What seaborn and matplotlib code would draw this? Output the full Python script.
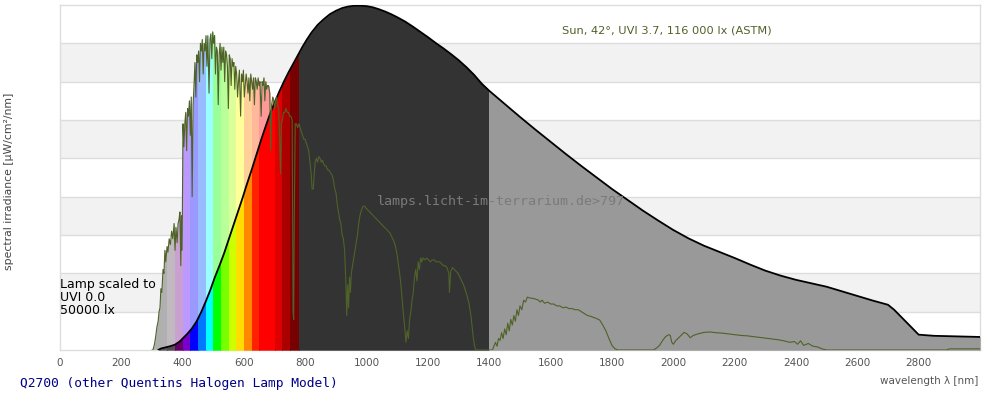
import matplotlib
matplotlib.use('Agg')
import matplotlib.pyplot as plt
from matplotlib.patches import Rectangle
import seaborn as sns

# --- datos: lámpara halógena Q2700 (escalada) ---
lamp_nm = [320, 330, 340, 350, 360, 375, 390, 400, 415, 430, 445, 460, 475, 490, 505,
           520, 535, 550, 565, 580, 595, 610, 625, 640, 655, 670, 685, 700, 715, 730,
           745, 760, 775, 790, 805, 820, 840, 860, 880, 900, 920, 940, 960, 980, 1000,
           1020, 1040, 1060, 1080, 1100, 1125, 1150, 1175, 1200, 1225, 1250, 1275, 1300,
           1325, 1350, 1375, 1400, 1450, 1500, 1550, 1600, 1650, 1700, 1750, 1800, 1850,
           1900, 1950, 2000, 2050, 2100, 2150, 2200, 2250, 2300, 2350, 2400, 2450, 2500,
           2550, 2600, 2650, 2700, 2720, 2800, 2850, 2900, 3000]
lamp_val = [0.0, 0.04, 0.06, 0.08, 0.10, 0.14, 0.22, 0.30, 0.42, 0.56, 0.74, 0.98, 1.26, 1.56, 1.90,
            2.20, 2.52, 2.88, 3.24, 3.60, 3.96, 4.34, 4.70, 5.08, 5.46, 5.82, 6.16, 6.46, 6.74, 7.00,
            7.24, 7.46, 7.68, 7.90, 8.10, 8.28, 8.48, 8.63, 8.76, 8.85, 8.92, 8.96, 8.98, 8.98, 8.97,
            8.94, 8.89, 8.83, 8.76, 8.68, 8.57, 8.44, 8.30, 8.16, 8.01, 7.87, 7.72, 7.56,
            7.38, 7.18, 6.95, 6.76, 6.42, 6.08, 5.75, 5.43, 5.11, 4.80, 4.50, 4.20, 3.92,
            3.64, 3.38, 3.13, 2.91, 2.72, 2.56, 2.40, 2.23, 2.07, 1.94, 1.83, 1.74, 1.65,
            1.53, 1.41, 1.29, 1.18, 1.05, 0.40, 0.37, 0.36, 0.34]

# --- datos: sol ASTM 42° ---
sun_nm = [300, 303, 308, 312, 316, 320, 323, 326, 329, 332, 336, 339, 342, 345, 349, 352,
          356, 360, 364, 368, 372, 375, 378, 382, 385, 388, 391, 394, 396, 397, 399,
          401, 404, 407, 410, 413, 416, 419, 422, 425, 428, 431, 434, 437, 440, 443,
          446, 449, 452, 455, 458, 461, 464, 467, 470, 473, 476, 479, 482, 486, 489,
          492, 495, 498, 501, 504, 507, 510, 513, 516, 519, 522, 525, 528, 531, 534,
          537, 540, 543, 546, 549, 552, 555, 558, 561, 564, 567, 570, 573, 576, 579,
          582, 585, 589, 592, 595, 598, 601, 604, 607, 610, 613, 616, 619, 622, 625,
          628, 631, 634, 637, 640, 643, 646, 649, 652, 656, 659, 662, 665, 668, 671,
          674, 677, 680, 684, 687, 690, 694, 697, 700, 703, 706, 709, 713, 716, 719,
          722, 725, 729, 733, 737, 741, 745, 749, 753, 757, 760, 762, 764, 767, 771,
          775, 779, 783, 787, 791, 795, 799, 803, 807, 811, 815, 819, 822, 826, 829,
          832, 836, 840, 844, 848, 852, 856, 860, 864, 868, 872, 876, 880, 884, 888,
          892, 896, 900, 904, 908, 912, 916, 920, 924, 928, 932, 935, 938, 941, 944,
          947, 950, 954, 958, 962, 966, 970, 974, 978, 983, 988, 993, 998, 1004, 1010,
          1016, 1022, 1028, 1034, 1040, 1046, 1052, 1058, 1064, 1070, 1076, 1082, 1088,
          1094, 1099, 1104, 1109, 1114, 1119, 1124, 1128, 1132, 1136, 1140, 1144, 1148,
          1152, 1156, 1160, 1164, 1168, 1172, 1176, 1180, 1184, 1190, 1196, 1202, 1208,
          1214, 1220, 1226, 1232, 1238, 1244, 1250, 1256, 1262, 1268, 1270, 1274, 1280,
          1286, 1292, 1298, 1304, 1310, 1316, 1322, 1328, 1334, 1340, 1344, 1348, 1352,
          1356, 1410, 1415, 1420, 1425, 1430, 1435, 1440, 1445, 1450, 1455, 1460, 1465,
          1470, 1475, 1480, 1485, 1490, 1495, 1500, 1506, 1512, 1518, 1524, 1530, 1540,
          1550, 1560, 1566, 1572, 1580, 1590, 1600, 1610, 1620, 1630, 1640, 1650, 1660,
          1670, 1680, 1690, 1700, 1710, 1720, 1730, 1740, 1750, 1760, 1770, 1780, 1790,
          1800, 1810, 1820, 1935, 1945, 1955, 1965, 1975, 1985, 1990, 1995, 2000, 2008,
          2015, 2025, 2035, 2045, 2055, 2065, 2080, 2100, 2120, 2140, 2160, 2180, 2200,
          2220, 2240, 2260, 2280, 2300, 2320, 2340, 2360, 2380, 2395, 2405, 2415, 2425,
          2440, 2455, 2470, 2485, 2500, 2890, 2900, 3000]
sun_val = [0, 0, 0.15, 0.35, 0.6, 0.75, 1.0, 1.1, 1.6, 1.5, 2.1, 2.0, 2.6, 2.3, 2.7, 2.55,
           2.9, 2.75, 3.1, 2.9, 3.3, 2.6, 3.2, 2.8, 3.3, 3.4, 3.6, 2.2, 3.5, 2.6, 3.5,
           5.9, 5.3, 5.9, 6.2, 5.2, 6.3, 6.1, 6.5, 5.6, 6.6, 4.0, 6.4, 6.9, 7.5, 6.6,
           7.7, 7.5, 7.8, 7.0, 8.0, 7.8, 8.1, 7.2, 8.0, 7.8, 8.2, 7.4, 8.2, 6.7, 8.1,
           8.25, 7.6, 8.3, 8.0, 8.2, 7.2, 7.9, 7.8, 6.4, 7.7, 8.0, 7.3, 7.9, 7.5, 7.9,
           7.0, 7.8, 7.7, 7.4, 6.3, 7.7, 7.6, 6.9, 7.6, 7.4, 7.5, 6.8, 7.4, 7.2, 6.6,
           7.0, 7.3, 6.1, 7.2, 7.0, 7.3, 6.6, 6.9, 7.2, 7.0, 6.7, 7.1, 6.5, 7.2, 7.0,
           6.8, 7.1, 6.4, 7.1, 7.0, 6.8, 7.1, 6.9, 7.0, 6.1, 7.0, 6.9, 7.1, 6.5, 7.0,
           6.8, 6.9, 6.9, 6.7, 5.2, 6.4, 6.6, 6.5, 6.3, 6.5, 6.6, 6.4, 6.3, 5.6, 4.6,
           5.9, 6.0, 6.2, 6.2, 6.3, 6.2, 6.2, 6.1, 6.1, 6.0, 1.0, 0.8, 3.5, 5.9, 5.9,
           5.8, 5.9, 5.8, 5.7, 5.6, 5.5, 5.5, 5.4, 5.3, 5.2, 4.9, 4.6, 4.2, 4.2, 4.6,
           4.9, 5.0, 4.9, 5.05, 5.0, 4.9, 4.95, 4.85, 4.8, 4.8, 4.7, 4.7, 4.65, 4.6, 4.55,
           4.4, 4.2, 4.1, 3.8, 3.6, 3.4, 3.3, 3.0, 2.9, 2.6, 1.8, 0.9, 1.7, 1.1, 1.9,
           1.5, 2.0, 2.2, 2.4, 2.6, 2.8, 3.0, 3.3, 3.5, 3.65, 3.75, 3.75, 3.7, 3.65, 3.6,
           3.55, 3.5, 3.45, 3.4, 3.35, 3.3, 3.25, 3.2, 3.15, 3.1, 3.05, 2.95, 2.85,
           2.7, 2.5, 2.2, 1.9, 1.5, 1.0, 0.6, 0.2, 0.5, 0.3, 0.8, 1.0, 1.3,
           1.5, 1.9, 2.1, 1.8, 2.3, 2.1, 2.4, 2.3, 2.4, 2.35, 2.4, 2.35, 2.3,
           2.35, 2.35, 2.3, 2.3, 2.3, 2.25, 2.2, 2.2, 2.15, 2.0, 1.5, 2.05, 2.15,
           2.1, 2.05, 2.0, 1.9, 1.8, 1.7, 1.55, 1.4, 1.2, 0.9, 0.6, 0.3, 0.1,
           0, 0, 0.1, 0.2, 0.1, 0.3, 0.25, 0.45, 0.3, 0.55, 0.4, 0.7, 0.5,
           0.8, 0.65, 0.9, 0.75, 1.05, 0.9, 1.15, 1.05, 1.3, 1.25, 1.38, 1.36, 1.35,
           1.33, 1.3, 1.25, 1.3, 1.22, 1.25, 1.2, 1.2, 1.15, 1.15, 1.1, 1.12, 1.08,
           1.08, 1.05, 1.05, 1.0, 0.95, 0.9, 0.88, 0.85, 0.82, 0.78, 0.65, 0.5, 0.3,
           0.12, 0.03, 0, 0, 0.05, 0.12, 0.25, 0.35, 0.4, 0.38, 0.2, 0.15, 0.25,
           0.3, 0.38, 0.46, 0.42, 0.32, 0.38, 0.42, 0.46, 0.47, 0.45, 0.44, 0.42, 0.4,
           0.38, 0.37, 0.35, 0.33, 0.31, 0.29, 0.27, 0.24, 0.2, 0.22, 0.15, 0.24, 0.12,
           0.17, 0.1, 0.08, 0.03, 0, 0, 0.03, 0.03]

# --- bandas de color (nm) ---
band_edges = [300, 350, 375, 400, 425, 450, 475, 500, 525, 550, 575, 600, 625, 650,
              700, 725, 750, 780, 1400, 3000]
lamp_colors = ['#5c5c5c', '#554a55', '#660066', '#7700cc', '#0000ff', '#0077ff', '#00ffff',
               '#00ff00', '#77ff00', '#ccff00', '#ffdd00', '#ff8800', '#ff2200', '#ff0000',
               '#dd0000', '#aa0000', '#770000', '#333333', '#999999']
sun_colors = ['#b0b0b0', '#c0bac0', '#c9a0d0', '#bb99ff', '#9999ff', '#99bbff', '#99ffff',
              '#99ff99', '#bbff99', '#ddff99', '#ffff99', '#ffd099', '#ffb899', '#ff9999',
              '#ff9999', '#ee9999', '#dd9999', '#bbbbbb', '#bbbbbb']

x_ticks = list(range(0, 3000, 200))

sns.set_style('white')
plt.rcParams['font.family'] = ['DejaVu Sans']

fig = plt.figure(figsize=(10, 4), dpi=100)
ax = fig.add_axes([0.06, 0.125, 0.92, 0.8625])

# fondo con franjas
for k in range(9):
    if k % 2 == 1:
        ax.axhspan(k, k + 1, color='#f2f2f2', lw=0, zorder=0)
    if k > 0:
        ax.axhline(k, color='#dddddd', lw=1, zorder=1)


def relleno_bandas(xs, ys, colores, z):
    for a, b, c in zip(band_edges[:-1], band_edges[1:], colores):
        poly = ax.fill_between(xs, 0, ys, color=c, lw=0.3, edgecolor=c, zorder=z)
        poly.set_clip_path(Rectangle((a, 0), b - a, 9, transform=ax.transData))


relleno_bandas(sun_nm, sun_val, sun_colors, 2)
relleno_bandas(lamp_nm, lamp_val, lamp_colors, 3)

sns.lineplot(x=lamp_nm, y=lamp_val, color='black', lw=1.3, ax=ax,
             estimator=None, sort=False, zorder=4)
sns.lineplot(x=sun_nm, y=sun_val, color='#4f6228', lw=0.8, ax=ax,
             estimator=None, sort=False, zorder=5)

ax.set_xlim(0, 3000)
ax.set_ylim(0, 9)
ax.set_xticks(x_ticks)
ax.set_yticks([])
ax.tick_params(axis='x', length=0, pad=6, labelsize=7.5, colors='#555555')
for s in ax.spines.values():
    s.set_color('#dddddd')
    s.set_linewidth(1)

ax.text(0.66, 0.925, 'Sun, 42°, UVI 3.7, 116 000 lx (ASTM)', transform=ax.transAxes,
        ha='center', va='center', fontsize=8.2, color='#4f6228', zorder=6)
ax.text(0, 1.36, 'Lamp scaled to\nUVI 0.0\n50000 lx', ha='left', va='center',
        fontsize=9, color='black', linespacing=1.0, zorder=6)
ax.text(0.345, 0.43, 'lamps.licht-im-terrarium.de>797', transform=ax.transAxes,
        ha='left', va='center', fontsize=9.6, family='DejaVu Sans Mono',
        color='#7a7a7a', zorder=6)

fig.text(0.978, 0.048, 'wavelength λ [nm]', ha='right', va='center',
         fontsize=7.5, color='#555555')
fig.text(0.02, 0.04, 'Q2700 (other Quentins Halogen Lamp Model)', ha='left', va='center',
         fontsize=9.3, family='DejaVu Sans Mono', color='#000088')
fig.text(0.009, 0.5475, 'spectral irradiance [µW/cm²/nm]', rotation=90, ha='center',
         va='center', fontsize=7.8, color='#444444')

fig.savefig('out.png', dpi=100)
